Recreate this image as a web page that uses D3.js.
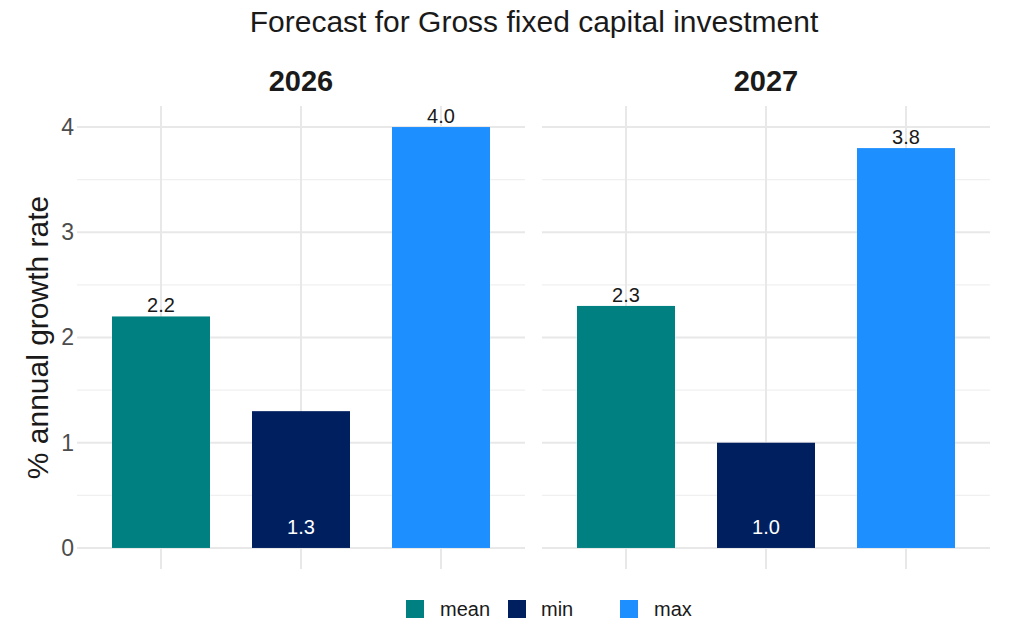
<!DOCTYPE html>
<html>
<head>
<meta charset="utf-8">
<script src="https://cdn.jsdelivr.net/npm/d3@7"></script>
<style>
  body { margin: 0; background: #fff; }
  svg { display: block; font-family: "Liberation Sans", Arial, sans-serif; }
</style>
</head>
<body>
<svg id="chart" width="1015" height="621"></svg>
<script>
// Forecast values by year and statistic
const years = ["2026", "2027"];
const stats = ["mean", "min", "max"];
const values2026 = [2.2, 1.3, 4.0];
const values2027 = [2.3, 1.0, 3.8];
const yTicks = [0, 1, 2, 3, 4];
const colors = ["#008080", "#001f5f", "#1e8fff"];

const seriesByYear = [values2026, values2027];

const svg = d3.select("#chart");

const panelTop = 106, panelBottom = 569;
const panels = [{x0: 77, x1: 525}, {x0: 542, x1: 990}];

const y = d3.scaleLinear().domain([-0.2, 4.2]).range([panelBottom, panelTop]);
const minorTicks = d3.range(0.5, 4.2, 1);

// Title
svg.append("text")
  .attr("x", 534).attr("y", 32)
  .attr("text-anchor", "middle")
  .attr("font-size", 30)
  .attr("fill", "#1a1a1a")
  .text("Forecast for Gross fixed capital investment");

// Y axis title
svg.append("text")
  .attr("transform", `translate(48,${(panelTop + panelBottom) / 2}) rotate(-90)`)
  .attr("text-anchor", "middle")
  .attr("font-size", 30)
  .attr("fill", "#1a1a1a")
  .text("% annual growth rate");

// Y axis tick labels (left panel only)
const yAxis = d3.axisLeft(y).tickValues(yTicks).tickSize(0).tickPadding(3).tickFormat(d3.format("d"));
const yAxisG = svg.append("g").attr("transform", `translate(${panels[0].x0},0)`).call(yAxis);
yAxisG.select(".domain").remove();
yAxisG.selectAll("text").attr("font-size", 23).attr("fill", "#4d4d4d").attr("font-family", "Liberation Sans, Arial, sans-serif");

years.forEach((yr, pi) => {
  const p = panels[pi];
  const vals = seriesByYear[pi];
  const x = d3.scaleBand().domain(stats).range([p.x0, p.x1]).paddingInner(0.3).paddingOuter(0.25);
  const g = svg.append("g");

  // minor grid
  g.selectAll(".minor").data(minorTicks).join("line")
    .attr("x1", p.x0).attr("x2", p.x1)
    .attr("y1", d => y(d)).attr("y2", d => y(d))
    .attr("stroke", "#f0f0f0").attr("stroke-width", 1.2);
  // major grid
  g.selectAll(".major").data(yTicks).join("line")
    .attr("x1", p.x0).attr("x2", p.x1)
    .attr("y1", d => y(d)).attr("y2", d => y(d))
    .attr("stroke", "#e8e8e8").attr("stroke-width", 2);
  // vertical grid
  g.selectAll(".vgrid").data(stats).join("line")
    .attr("x1", d => x(d) + x.bandwidth() / 2).attr("x2", d => x(d) + x.bandwidth() / 2)
    .attr("y1", panelTop).attr("y2", panelBottom)
    .attr("stroke", "#e8e8e8").attr("stroke-width", 2);

  // bars
  g.selectAll(".bar").data(stats).join("rect")
    .attr("x", d => x(d))
    .attr("width", x.bandwidth())
    .attr("y", (d, i) => y(vals[i]))
    .attr("height", (d, i) => y(0) - y(vals[i]))
    .attr("fill", (d, i) => colors[i]);

  // value labels: min inside bar near base, others above the bar
  g.selectAll(".lbl").data(stats).join("text")
    .attr("x", d => x(d) + x.bandwidth() / 2)
    .attr("y", (d, i) => d === "min" ? y(0.2) + 7 : y(vals[i]) - 4)
    .attr("text-anchor", "middle")
    .attr("font-size", 20)
    .attr("fill", d => d === "min" ? "#ffffff" : "#1a1a1a")
    .text((d, i) => d3.format(".1f")(vals[i]));

  // facet strip label
  svg.append("text")
    .attr("x", (p.x0 + p.x1) / 2).attr("y", 91)
    .attr("text-anchor", "middle")
    .attr("font-size", 29).attr("font-weight", "bold")
    .attr("fill", "#1a1a1a")
    .text(yr);
});

// Legend
const legendItems = [
  {label: "mean", sx: 406, tx: 440},
  {label: "min", sx: 508, tx: 541},
  {label: "max", sx: 620, tx: 654}
];
const lg = svg.append("g");
legendItems.forEach((it, i) => {
  lg.append("rect").attr("x", it.sx).attr("y", 600).attr("width", 18).attr("height", 18).attr("fill", colors[i]);
  lg.append("text").attr("x", it.tx).attr("y", 616).attr("font-size", 20).attr("fill", "#1a1a1a").text(stats[i]);
});
</script>
</body>
</html>
